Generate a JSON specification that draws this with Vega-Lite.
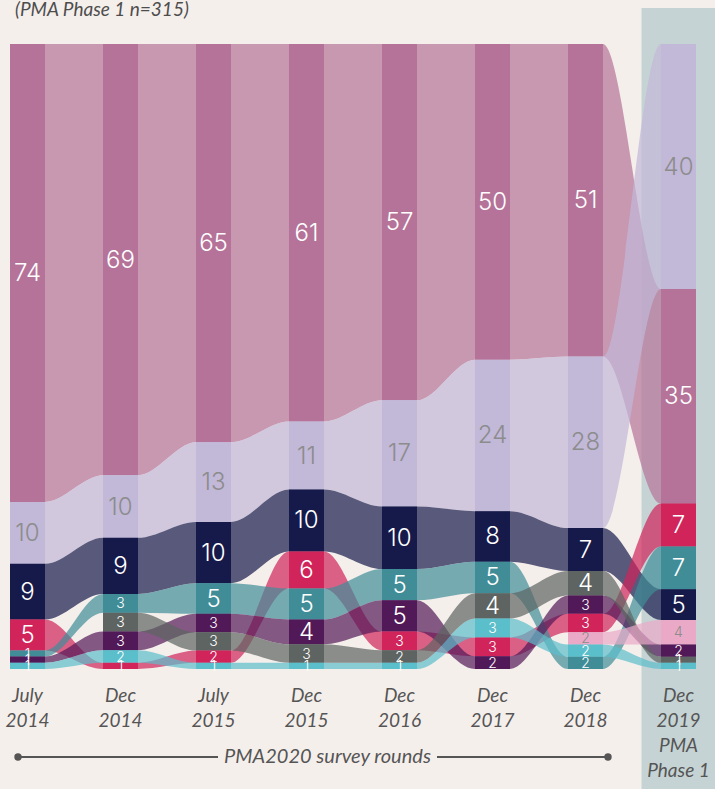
{
  "$schema": "https://vega.github.io/schema/vega-lite/v6.json",
  "width": 706,
  "height": 625,
  "autosize": {"type": "none"},
  "padding": {"left": 0, "top": 44, "right": 9, "bottom": 120},
  "background": "#f5efec",
  "title": {"text": "(PMA Phase 1 n=315)", "anchor": "start", "frame": "group", "offset": -27, "dx": 15, "baseline": "alphabetic", "font": "Lato", "fontStyle": "italic", "fontSize": 19, "fontWeight": "normal", "color": "#4d4d4d"},
  "config": {"view": {"stroke": null}},
  "data": {"values": [
    {"round": "July 2014", "r": 1, "cat": "A", "v": 74, "pos": 1},
    {"round": "July 2014", "r": 1, "cat": "B", "v": 10, "pos": 2},
    {"round": "July 2014", "r": 1, "cat": "C", "v": 9, "pos": 3},
    {"round": "July 2014", "r": 1, "cat": "D", "v": 5, "pos": 4},
    {"round": "July 2014", "r": 1, "cat": "E", "v": 1, "pos": 5},
    {"round": "July 2014", "r": 1, "cat": "F", "v": 1, "pos": 6},
    {"round": "July 2014", "r": 1, "cat": "G", "v": 1, "pos": 7},
    {"round": "Dec 2014", "r": 2, "cat": "A", "v": 69, "pos": 1},
    {"round": "Dec 2014", "r": 2, "cat": "B", "v": 10, "pos": 2},
    {"round": "Dec 2014", "r": 2, "cat": "C", "v": 9, "pos": 3},
    {"round": "Dec 2014", "r": 2, "cat": "E", "v": 3, "pos": 4},
    {"round": "Dec 2014", "r": 2, "cat": "H", "v": 3, "pos": 5},
    {"round": "Dec 2014", "r": 2, "cat": "F", "v": 3, "pos": 6},
    {"round": "Dec 2014", "r": 2, "cat": "G", "v": 2, "pos": 7},
    {"round": "Dec 2014", "r": 2, "cat": "D", "v": 1, "pos": 8},
    {"round": "July 2015", "r": 3, "cat": "A", "v": 65, "pos": 1},
    {"round": "July 2015", "r": 3, "cat": "B", "v": 13, "pos": 2},
    {"round": "July 2015", "r": 3, "cat": "C", "v": 10, "pos": 3},
    {"round": "July 2015", "r": 3, "cat": "E", "v": 5, "pos": 4},
    {"round": "July 2015", "r": 3, "cat": "F", "v": 3, "pos": 5},
    {"round": "July 2015", "r": 3, "cat": "H", "v": 3, "pos": 6},
    {"round": "July 2015", "r": 3, "cat": "D", "v": 2, "pos": 7},
    {"round": "July 2015", "r": 3, "cat": "G", "v": 1, "pos": 8},
    {"round": "Dec 2015", "r": 4, "cat": "A", "v": 61, "pos": 1},
    {"round": "Dec 2015", "r": 4, "cat": "B", "v": 11, "pos": 2},
    {"round": "Dec 2015", "r": 4, "cat": "C", "v": 10, "pos": 3},
    {"round": "Dec 2015", "r": 4, "cat": "D", "v": 6, "pos": 4},
    {"round": "Dec 2015", "r": 4, "cat": "E", "v": 5, "pos": 5},
    {"round": "Dec 2015", "r": 4, "cat": "F", "v": 4, "pos": 6},
    {"round": "Dec 2015", "r": 4, "cat": "H", "v": 3, "pos": 7},
    {"round": "Dec 2015", "r": 4, "cat": "G", "v": 1, "pos": 8},
    {"round": "Dec 2016", "r": 5, "cat": "A", "v": 57, "pos": 1},
    {"round": "Dec 2016", "r": 5, "cat": "B", "v": 17, "pos": 2},
    {"round": "Dec 2016", "r": 5, "cat": "C", "v": 10, "pos": 3},
    {"round": "Dec 2016", "r": 5, "cat": "E", "v": 5, "pos": 4},
    {"round": "Dec 2016", "r": 5, "cat": "F", "v": 5, "pos": 5},
    {"round": "Dec 2016", "r": 5, "cat": "D", "v": 3, "pos": 6},
    {"round": "Dec 2016", "r": 5, "cat": "H", "v": 2, "pos": 7},
    {"round": "Dec 2016", "r": 5, "cat": "G", "v": 1, "pos": 8},
    {"round": "Dec 2017", "r": 6, "cat": "A", "v": 50, "pos": 1},
    {"round": "Dec 2017", "r": 6, "cat": "B", "v": 24, "pos": 2},
    {"round": "Dec 2017", "r": 6, "cat": "C", "v": 8, "pos": 3},
    {"round": "Dec 2017", "r": 6, "cat": "E", "v": 5, "pos": 4},
    {"round": "Dec 2017", "r": 6, "cat": "H", "v": 4, "pos": 5},
    {"round": "Dec 2017", "r": 6, "cat": "G", "v": 3, "pos": 6},
    {"round": "Dec 2017", "r": 6, "cat": "D", "v": 3, "pos": 7},
    {"round": "Dec 2017", "r": 6, "cat": "F", "v": 2, "pos": 8},
    {"round": "Dec 2018", "r": 7, "cat": "A", "v": 51, "pos": 1},
    {"round": "Dec 2018", "r": 7, "cat": "B", "v": 28, "pos": 2},
    {"round": "Dec 2018", "r": 7, "cat": "C", "v": 7, "pos": 3},
    {"round": "Dec 2018", "r": 7, "cat": "H", "v": 4, "pos": 4},
    {"round": "Dec 2018", "r": 7, "cat": "F", "v": 3, "pos": 5},
    {"round": "Dec 2018", "r": 7, "cat": "D", "v": 3, "pos": 6},
    {"round": "Dec 2018", "r": 7, "cat": "I", "v": 2, "pos": 7},
    {"round": "Dec 2018", "r": 7, "cat": "G", "v": 2, "pos": 8},
    {"round": "Dec 2018", "r": 7, "cat": "E", "v": 2, "pos": 9},
    {"round": "Dec 2019 (PMA Phase 1)", "r": 8, "cat": "B", "v": 40, "pos": 1},
    {"round": "Dec 2019 (PMA Phase 1)", "r": 8, "cat": "A", "v": 35, "pos": 2},
    {"round": "Dec 2019 (PMA Phase 1)", "r": 8, "cat": "D", "v": 7, "pos": 3},
    {"round": "Dec 2019 (PMA Phase 1)", "r": 8, "cat": "E", "v": 7, "pos": 4},
    {"round": "Dec 2019 (PMA Phase 1)", "r": 8, "cat": "C", "v": 5, "pos": 5},
    {"round": "Dec 2019 (PMA Phase 1)", "r": 8, "cat": "I", "v": 4, "pos": 6},
    {"round": "Dec 2019 (PMA Phase 1)", "r": 8, "cat": "F", "v": 2, "pos": 7},
    {"round": "Dec 2019 (PMA Phase 1)", "r": 8, "cat": "H", "v": 1, "pos": 8},
    {"round": "Dec 2019 (PMA Phase 1)", "r": 8, "cat": "G", "v": 1, "pos": 9}
  ]},
  "encoding": {
    "x": {
      "field": "round", "type": "ordinal",
      "scale": {"type": "band", "domain": ["July 2014", "Dec 2014", "July 2015", "Dec 2015", "Dec 2016", "Dec 2017", "Dec 2018", "Dec 2019 (PMA Phase 1)"], "paddingInner": 0.623656, "paddingOuter": 0.107527},
      "axis": {"title": null, "domain": false, "ticks": false, "labelAngle": 0, "labelFont": "Lato", "labelFontStyle": "italic", "labelFontSize": 19, "labelColor": "#555555", "labelLineHeight": 25, "labelPadding": 17, "labelOverlap": false, "labelFlush": false, "labelBound": false, "zindex": 1,
        "labelExpr": "datum.value == 'Dec 2019 (PMA Phase 1)' ? ['Dec', '2019', 'PMA', 'Phase 1'] : split(datum.value, ' ')"}
    }
  },
  "layer": [
    {
      "data": {"values": [{}]},
      "mark": {"type": "bar", "color": "#c6d3d4", "width": 74},
      "encoding": {
        "x": {"datum": "Dec 2019 (PMA Phase 1)", "type": "ordinal"},
        "y": {"datum": 1.0576, "type": "quantitative", "scale": {"domain": [0, 1]}, "axis": null},
        "y2": {"datum": -0.192}
      }
    },
    {
      "transform": [
        {"stack": "v", "groupby": ["r"], "sort": [{"field": "pos", "order": "descending"}], "offset": "normalize", "as": ["y0", "y1"]},
        {"fold": ["y0", "y1"]}
      ],
      "mark": {"type": "area", "interpolate": "monotone", "opacity": 0.7},
      "encoding": {
        "xOffset": {"field": "key", "type": "nominal", "scale": {"type": "point", "domain": ["y0", "y1"], "range": [0, 35], "padding": 0}},
        "y": {"field": "y0", "type": "quantitative", "scale": {"domain": [0, 1]}, "axis": null},
        "y2": {"field": "y1"},
        "color": {"field": "cat", "type": "nominal", "legend": null,
          "scale": {"domain": ["A", "B", "C", "D", "E", "F", "G", "H", "I"], "range": ["#b57399", "#c2b8d8", "#161a4b", "#d0245b", "#408d98", "#521958", "#5bbecb", "#5d6461", "#eaaac7"]}},
        "order": [{"field": "r", "type": "quantitative"}, {"field": "key", "type": "ordinal"}]
      }
    },
    {
      "transform": [
        {"stack": "v", "groupby": ["r"], "sort": [{"field": "pos", "order": "descending"}], "offset": "normalize", "as": ["y0", "y1"]}
      ],
      "mark": {"type": "bar", "width": 35},
      "encoding": {
        "y": {"field": "y0", "type": "quantitative", "scale": {"domain": [0, 1]}, "axis": null},
        "y2": {"field": "y1"},
        "color": {"field": "cat", "type": "nominal", "legend": null}
      }
    },
    {
      "transform": [
        {"stack": "v", "groupby": ["r"], "sort": [{"field": "pos", "order": "descending"}], "offset": "normalize", "as": ["y0", "y1"]},
        {"fold": ["y0", "y1"]},
        {"aggregate": [{"op": "mean", "field": "value", "as": "mid"}], "groupby": ["round", "r", "cat", "v"]}
      ],
      "mark": {"type": "text", "font": "Inter", "fontWeight": 300, "baseline": "middle", "dy": 1},
      "encoding": {
        "y": {"field": "mid", "type": "quantitative", "scale": {"domain": [0, 1]}, "axis": null},
        "text": {"field": "v", "type": "quantitative"},
        "color": {"condition": {"test": "datum.cat == 'B' || datum.cat == 'I'", "value": "#8c8c8c"}, "value": "#ffffff"},
        "size": {"condition": {"test": "datum.v >= 4 && datum.cat != 'I'", "value": 24}, "value": 14}
      }
    },
    {
      "data": {"values": [{}]},
      "mark": {"type": "rule", "color": "#555555", "strokeWidth": 2, "xOffset": -9.5, "x2Offset": 4.5},
      "encoding": {
        "x": {"datum": "July 2014", "type": "ordinal"},
        "x2": {"datum": "July 2015"},
        "y": {"datum": -0.1408, "type": "quantitative", "scale": {"domain": [0, 1]}, "axis": null}
      }
    },
    {
      "data": {"values": [{}]},
      "mark": {"type": "rule", "color": "#555555", "strokeWidth": 2, "xOffset": 37.5, "x2Offset": 22.5},
      "encoding": {
        "x": {"datum": "Dec 2016", "type": "ordinal"},
        "x2": {"datum": "Dec 2018"},
        "y": {"datum": -0.1408, "type": "quantitative", "scale": {"domain": [0, 1]}, "axis": null}
      }
    },
    {
      "data": {"values": [{}]},
      "mark": {"type": "point", "filled": true, "color": "#555555", "opacity": 1, "size": 55, "xOffset": -9.5},
      "encoding": {
        "x": {"datum": "July 2014", "type": "ordinal"},
        "y": {"datum": -0.1408, "type": "quantitative", "scale": {"domain": [0, 1]}, "axis": null}
      }
    },
    {
      "data": {"values": [{}]},
      "mark": {"type": "point", "filled": true, "color": "#555555", "opacity": 1, "size": 55, "xOffset": 22.5},
      "encoding": {
        "x": {"datum": "Dec 2018", "type": "ordinal"},
        "y": {"datum": -0.1408, "type": "quantitative", "scale": {"domain": [0, 1]}, "axis": null}
      }
    },
    {
      "data": {"values": [{"caption": "PMA2020 survey rounds"}]},
      "mark": {"type": "text", "font": "Lato", "fontStyle": "italic", "fontSize": 20, "color": "#555555", "baseline": "middle", "xOffset": 21},
      "encoding": {
        "x": {"datum": "Dec 2015", "type": "ordinal"},
        "y": {"datum": -0.1408, "type": "quantitative", "scale": {"domain": [0, 1]}, "axis": null},
        "text": {"field": "caption"}
      }
    }
  ]
}
